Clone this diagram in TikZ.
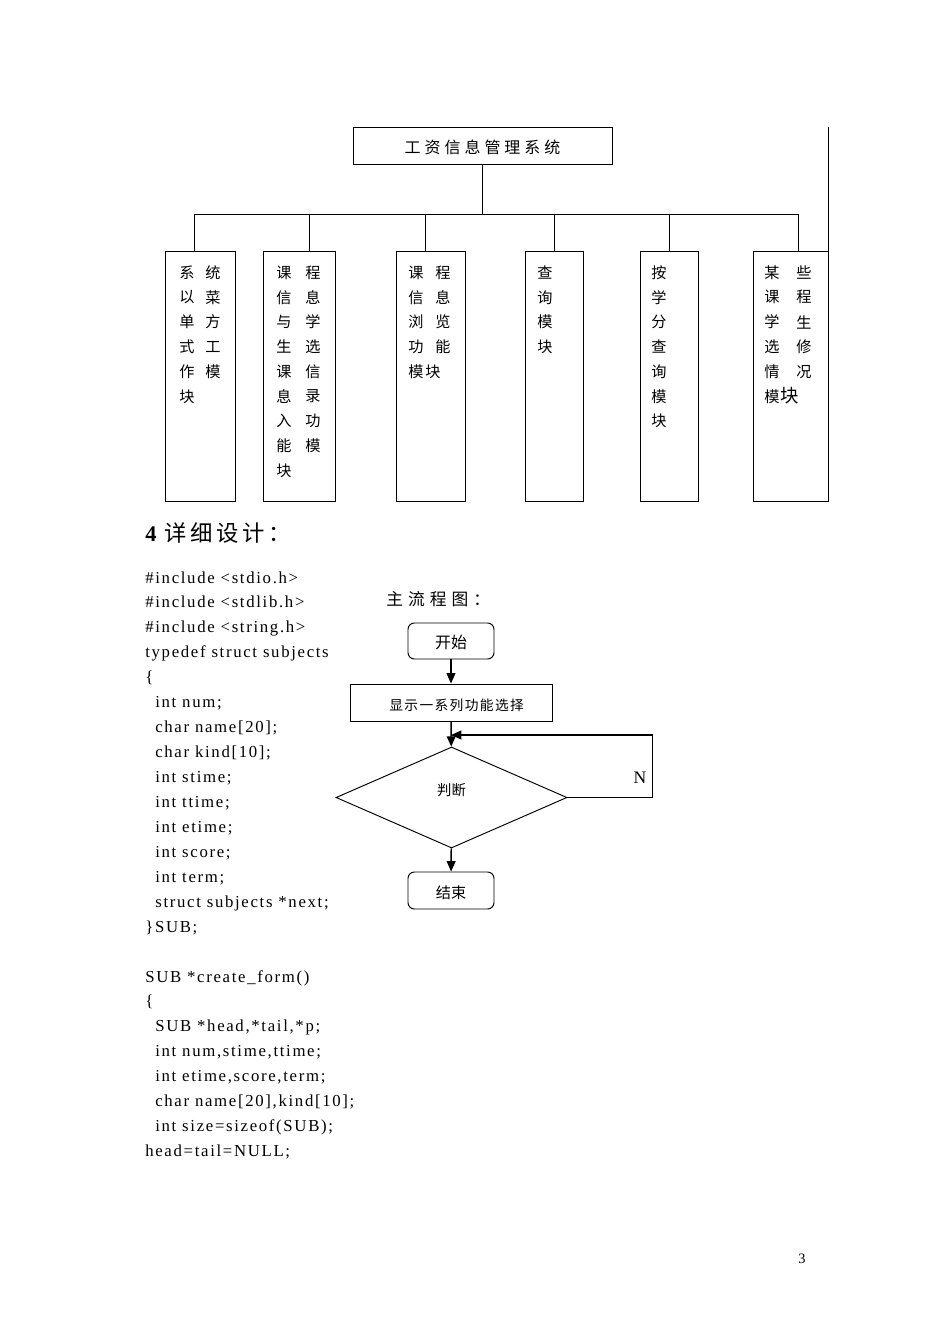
\documentclass[tikz,border=0pt]{standalone}
\usepackage{fontspec}
\setmainfont[LetterSpace=10]{Liberation Serif}
\newfontfamily\cjk{Noto Sans CJK SC}
\newfontfamily\cjkti[LetterSpace=25]{Noto Sans CJK SC}
\newfontfamily\cjkfl[LetterSpace=30]{Noto Sans CJK SC}
\newfontfamily\cjkhd[LetterSpace=16]{Noto Sans CJK SC}
\newfontfamily\cjkds[LetterSpace=10]{Noto Sans CJK SC}
\usetikzlibrary{shapes.geometric,arrows.meta}
\def\pxu{0.6263pt}
\newcommand\cl[3]{\node[code] (c#1) at (#2,{583+24.94*(#1-1)}) {#3};}
\begin{document}
\begin{tikzpicture}[x=\pxu, y={(0pt,-0.6263pt)},
  ln/.style={line width=0.6pt, draw=black},
  mod/.style={draw, line width=0.6pt, anchor=north west, inner sep=0, minimum height={250*\pxu}},
  ch/.style={font=\cjk\fontsize{9.5}{9.5}\selectfont, inner sep=0},
  code/.style={anchor=base west, inner sep=0, font=\fontsize{10.5}{10.5}\selectfont},
  fbox/.style={draw, line width=0.6pt, inner sep=0},
  arr/.style={line width=0.9pt, -{Triangle[length=6.5pt,width=5.5pt]}}]
\useasboundingbox[fill=white] (0,0) rectangle (950,1344);

% ---------- module chart ----------
\node[fbox, minimum width={259*\pxu}, minimum height={37*\pxu}, font=\cjkti\fontsize{10}{10}\selectfont] (title) at (482.5,145.5) {\raisebox{-1.2pt}[\height][\depth]{工资信息管理系统}};

\node[mod, minimum width={70*\pxu}] (m1) at (165,251) {};
\node[mod, minimum width={72*\pxu}] (m2) at (263,251) {};
\node[mod, minimum width={69*\pxu}] (m3) at (396,251) {};
\node[mod, minimum width={58*\pxu}] (m4) at (525,251) {};
\node[mod, minimum width={58*\pxu}] (m5) at (640,251) {};
\node[mod, minimum width={75*\pxu}] (m6) at (753,251) {};

\coordinate (d1) at (194,251);
\coordinate (d2) at (309,251);
\coordinate (d3) at (425,251);
\coordinate (d4) at (554,251);
\coordinate (d5) at (669,251);
\coordinate (d6) at (798,251);
\coordinate (j) at (482.5,214);
\draw[ln] (title.south) -- (j);
\draw[ln] (j -| d1) -- (j -| d6);
\foreach \i in {1,...,6} \draw[ln] (j -| d\i) -- (d\i);
\draw[ln] (m6.north east) -- (m6.north east |- title.north);

% module texts
\foreach \c [count=\i from 0] in {系,以,单,式,作,块} \node[ch] (a1-\i) at (187,{272.5+24.8*\i}) {\c};
\foreach \c [count=\i from 0] in {统,菜,方,工,模} \node[ch] (b1-\i) at (213,{272.5+24.8*\i}) {\c};
\foreach \c [count=\i from 0] in {课,信,与,生,课,息,入,能,块} \node[ch] (a2-\i) at (284,{272.5+24.8*\i}) {\c};
\foreach \c [count=\i from 0] in {程,息,学,选,信,录,功,模} \node[ch] (b2-\i) at (313,{272.5+24.8*\i}) {\c};
\foreach \c [count=\i from 0] in {课,信,浏,功,模} \node[ch] (a3-\i) at (416,{272.5+24.8*\i}) {\c};
\foreach \c [count=\i from 0] in {程,息,览,能} \node[ch] (b3-\i) at (443,{272.5+24.8*\i}) {\c};
\node[ch] (b3-4) at (433,{272.5+24.8*4}) {块};
\foreach \c [count=\i from 0] in {查,询,模,块} \node[ch] (a4-\i) at (545,{272.5+24.8*\i}) {\c};
\foreach \c [count=\i from 0] in {按,学,分,查,询,模,块} \node[ch] (a5-\i) at (659,{272.5+24.8*\i}) {\c};
\foreach \c [count=\i from 0] in {某,课,学,选,情,模} \node[ch] (a6-\i) at (772,{272.5+24.8*\i}) {\c};
\foreach \c [count=\i from 0] in {些,程,生,修,况} \node[ch] (b6-\i) at (804,{272.5+24.8*\i}) {\c};
\node[ch, font=\cjk\fontsize{11.5}{11.5}\selectfont] (b6-5) at (790,396) {块};

% ---------- heading ----------
\node[anchor=base west, inner sep=0] (head) at (145,541) {\fontsize{14}{14}\selectfont\bfseries 4\mdseries\ \cjkhd 详细设计：};

% ---------- code ----------
\cl{1}{145}{\#include <stdio.h>}
\cl{2}{145}{\#include <stdlib.h>}
\cl{3}{145}{\#include <string.h>}
\cl{4}{145}{typedef struct subjects}
\cl{5}{145}{\{}
\cl{6}{155}{int num;}
\cl{7}{155}{char name[20];}
\cl{8}{155}{char kind[10];}
\cl{9}{155}{int stime;}
\cl{10}{155}{int ttime;}
\cl{11}{155}{int etime;}
\cl{12}{155}{int score;}
\cl{13}{155}{int term;}
\cl{14}{155}{struct subjects *next;}
\cl{15}{145}{\}SUB;}
\cl{17}{145}{SUB *create\_form()}
\cl{18}{145}{\{}
\cl{19}{155}{SUB *head,*tail,*p;}
\cl{20}{155}{int num,stime,ttime;}
\cl{21}{155}{int etime,score,term;}
\cl{22}{155}{char name[20],kind[10];}
\cl{23}{155}{int size=sizeof(SUB);}
\cl{24}{145}{head=tail=NULL;}

% ---------- flow chart ----------
\node[anchor=west, inner sep=0, font=\cjkfl\fontsize{10.5}{10.5}\selectfont] (ftitle) at (386,599.5) {主流程图：};
\node[fbox, rounded corners=4pt, minimum width={86*\pxu}, minimum height={36*\pxu}, font=\cjk\fontsize{10}{10}\selectfont] (start) at (451,641) {\raisebox{-1pt}[\height][\depth]{开始}};
\node[fbox, minimum width={202*\pxu}, minimum height={37*\pxu}, font=\cjkds\fontsize{8.6}{8.6}\selectfont] (disp) at (451,702.5) {\hspace*{7pt}\raisebox{-1.5pt}[\height][\depth]{显示一系列功能选择}};
\node[fbox, diamond, minimum width={231*\pxu}, minimum height={101*\pxu}, font=\cjk\fontsize{9}{9}\selectfont] (dec) at (451.5,797.5) {\raisebox{4.5pt}[\height][\depth]{判断}};
\node[fbox, rounded corners=4pt, minimum width={86*\pxu}, minimum height={37*\pxu}, font=\cjk\fontsize{9.5}{9.5}\selectfont] (stop) at (451,890.5) {\raisebox{-1.5pt}[\height][\depth]{结束}};
\coordinate (lp) at (451,735);
\draw[arr] (start) -- (disp);
\draw[arr] (disp) -- (dec);
\draw[arr] (dec) -- (stop);
\draw[arr] (dec.east) -- ++(85,0) |- (lp);
\node[inner sep=0, font=\fontsize{11}{11}\selectfont] (nlab) at (640,778) {N};

% page number
\node[inner sep=0, font=\fontsize{9}{9}\selectfont] (pg) at (802,1259) {3};
\end{tikzpicture}
\end{document}
